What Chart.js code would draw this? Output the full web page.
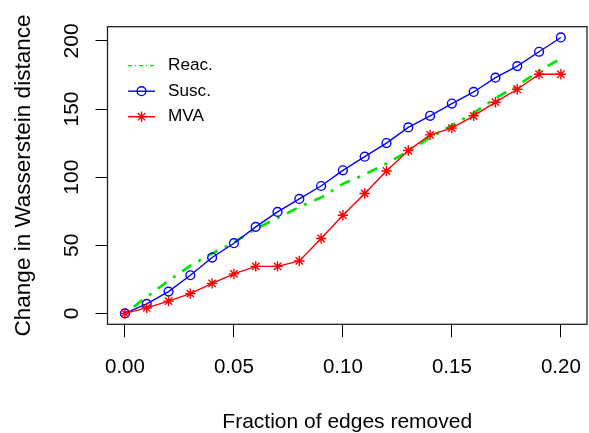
<!DOCTYPE html>
<html>
<head>
<meta charset="utf-8">
<script src="https://cdn.jsdelivr.net/npm/chart.js@4.4.0/dist/chart.umd.min.js"></script>
<style>
  html, body { margin: 0; padding: 0; background: #fff; }
</style>
</head>
<body>
<canvas id="myChart" width="589" height="433"></canvas>
<script>
const fractions = [0, 0.01, 0.02, 0.03, 0.04, 0.05, 0.06, 0.07, 0.08, 0.09, 0.10,
                   0.11, 0.12, 0.13, 0.14, 0.15, 0.16, 0.17, 0.18, 0.19, 0.20]
const reac = [0, 12, 24, 35, 44, 52, 62, 70, 78, 85, 95, 102, 110, 119, 129, 138, 147, 158, 167, 178, 187]
const susc = [0, 7, 16, 28, 41, 51.5, 63.5, 74.5, 84, 93.5, 105, 115, 125, 136.5, 145, 154, 162.5, 173, 181.5, 192, 202.5]
const mva = [0, 4, 9, 14.5, 22, 29, 34.5, 34.5, 38.5, 55, 72, 88, 104.5, 119.5, 131, 136, 145, 155, 164.5, 175.5, 175.5]
const xTicks = [0, 0.05, 0.10, 0.15, 0.20]
const yTicks = [0, 50, 100, 150, 200]

const FONT = '"Liberation Sans", Arial, sans-serif'

function pairs(ys) {
    return fractions.map((x, i) => ({ x: x, y: ys[i] }))
}

// frame around the plot region, upright y tick labels (read bottom to top)
// and an unboxed legend in the top left corner
const frameAndKey = {
    id: 'frameAndKey',
    afterDraw(chart) {
        const ctx = chart.ctx
        const a = chart.chartArea
        ctx.save()
        ctx.strokeStyle = '#222'
        ctx.lineWidth = 1.3
        ctx.strokeRect(a.left, a.top, a.right - a.left, a.bottom - a.top)

        const ys = chart.scales.y
        ctx.fillStyle = '#000'
        ctx.font = '21px ' + FONT
        ctx.textAlign = 'center'
        ctx.textBaseline = 'middle'
        ys.ticks.forEach(t => {
            ctx.save()
            ctx.translate(a.left - 35.5, ys.getPixelForValue(t.value))
            ctx.rotate(-Math.PI / 2)
            ctx.fillText(String(t.value), 0, 0)
            ctx.restore()
        })

        ctx.font = '17.2px ' + FONT
        ctx.textAlign = 'left'
        chart.data.datasets.forEach((ds, i) => {
            const y = a.top + 39 + i * 25.5
            const x0 = a.left + 20.5
            const x1 = a.left + 47.5
            ctx.strokeStyle = ds.borderColor
            ctx.lineWidth = ds.keyWidth
            ctx.setLineDash(ds.keyDash || [])
            ctx.beginPath()
            ctx.moveTo(x0, y)
            ctx.lineTo(x1, y)
            ctx.stroke()
            ctx.setLineDash([])
            if (ds.pointRadius > 0) {
                ctx.fillStyle = 'rgba(0,0,0,0)'
                ctx.lineWidth = ds.pointBorderWidth
                Chart.helpers.drawPoint(ctx, {
                    pointStyle: ds.pointStyle,
                    radius: ds.pointRadius,
                    borderWidth: ds.pointBorderWidth,
                    rotation: 0
                }, (x0 + x1) / 2, y)
            }
            ctx.fillStyle = '#000'
            ctx.fillText(ds.label, a.left + 60.5, y)
        })
        ctx.restore()
    }
}

// fixed axis boxes, no extra room for overhanging labels
function fixBox(size, isX) {
    return s => {
        if (isX) s.height = size
        else s.width = size
        s.paddingLeft = 0
        s.paddingRight = 0
        s.paddingTop = 0
        s.paddingBottom = 0
    }
}

const ctx = document.getElementById('myChart')
new Chart(ctx, {
    type: 'line',
    data: {
        datasets: [{
            label: 'Reac.',
            data: pairs(reac),
            borderColor: '#00e600',
            borderWidth: 2.7,
            borderDash: [3, 8, 11, 8],
            pointRadius: 0,
            pointHoverRadius: 0,
            order: 3,
            keyWidth: 1.2,
            keyDash: [4, 3, 1, 3]
        }, {
            label: 'Susc.',
            data: pairs(susc),
            borderColor: '#0000ff',
            borderWidth: 1.4,
            pointStyle: 'circle',
            pointRadius: 4.4,
            pointBorderWidth: 1.4,
            pointBorderColor: '#0000ff',
            pointBackgroundColor: 'rgba(0,0,0,0)',
            order: 2,
            keyWidth: 1.4
        }, {
            label: 'MVA',
            data: pairs(mva),
            borderColor: '#ff0000',
            borderWidth: 1.4,
            pointStyle: 'star',
            pointRadius: 5.2,
            pointBorderWidth: 1.4,
            pointBorderColor: '#ff0000',
            pointBackgroundColor: '#ff0000',
            order: 1,
            keyWidth: 1.4
        }]
    },
    options: {
        responsive: false,
        animation: false,
        layout: { autoPadding: false, padding: { top: 26.7, right: 2, left: 0, bottom: 0 } },
        plugins: {
            legend: { display: false },
            tooltip: { enabled: false }
        },
        scales: {
            x: {
                type: 'linear',
                min: -0.008,
                max: 0.212,
                afterBuildTicks: s => { s.ticks = xTicks.map(v => ({ value: v })) },
                afterFit: fixBox(108.7, true),
                border: { display: false },
                grid: { drawOnChartArea: false, tickLength: 13, tickColor: '#000', lineWidth: 1 },
                ticks: {
                    callback: v => v.toFixed(2),
                    autoSkip: false,
                    maxRotation: 0,
                    padding: 18,
                    color: '#000',
                    font: { family: FONT, size: 20.5 }
                },
                title: {
                    display: true,
                    text: 'Fraction of edges removed',
                    color: '#000',
                    padding: { top: 0, bottom: 0 },
                    font: { family: FONT, size: 21, lineHeight: 1.05 }
                }
            },
            y: {
                min: -8,
                max: 210.4,
                afterBuildTicks: s => { s.ticks = yTicks.map(v => ({ value: v })) },
                afterFit: fixBox(107.5, false),
                border: { display: false },
                grid: { drawOnChartArea: false, tickLength: 12, tickColor: '#000', lineWidth: 1 },
                ticks: { display: false, autoSkip: false },
                title: {
                    display: true,
                    text: 'Change in Wasserstein distance',
                    color: '#000',
                    padding: { top: 10, bottom: 0 },
                    font: { family: FONT, size: 22.5 }
                }
            }
        }
    },
    plugins: [frameAndKey]
})
</script>
</body>
</html>
